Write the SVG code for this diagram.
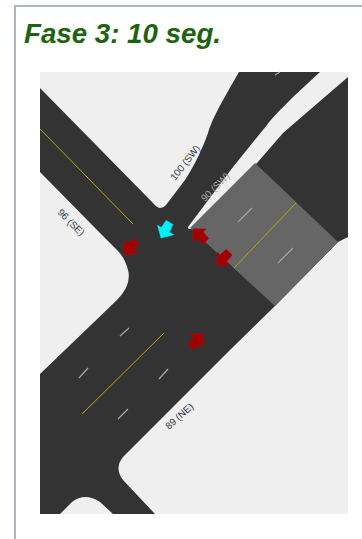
<svg xmlns="http://www.w3.org/2000/svg" width="362" height="539" viewBox="0 0 362 539">
<style>
.lbl{font-family:"Liberation Sans",Arial,sans-serif;font-size:9.8px;fill:#30384a}
.ye{stroke:#b8aa00;stroke-width:1;fill:none}
.da{stroke:#a8a8a8;stroke-width:1.2;fill:none}
.ar{fill:#a00000;stroke:#b80000;stroke-width:.8;stroke-linejoin:miter}
</style>
<defs><polygon id="arrow" points="0,0 0,13 -3,10 -9.5,15.5 -15,10 -9.5,3.5 -13,0"/></defs>
<rect width="362" height="539" fill="#fff"/>
<path d="M15,539V6H362" fill="none" stroke="#a9b8bf" stroke-width="2"/>
<text x="24" y="42.5" font-family="'Liberation Sans',Arial,sans-serif" font-size="27.7" font-weight="bold" font-style="italic" fill="#1c6412">Fase 3: 10 seg.</text>
<g id="map">
<rect x="40" y="72" width="308" height="442" fill="#efefef"/>
<path d="M40,88L153,203Q160,212 166,205L185,180C195,165 203,147 208,133C212,120 218,108 239,72L320,72L293,97C280,110 272,118 267,125L233,167L188,227Q187,229 191,229L257,163Q270,148 283,133L348,77L348,237L338,242L275,306L230,350L123,457Q114,468 123,480L155,514L113,514L100,502Q85,492 72,502L60,514L40,514L40,374L117,300Q132,285 128,270Q125,258 117,250L100,233L40,172Z" fill="#333"/>
<polygon points="190,228 255,163 338,242 275,306" fill="#666"/>
</g>
<g id="connectors">
<path class="ye" d="M40,129L133,224"/>
<path class="ye" d="M82,414L164,333"/>
<path class="ye" d="M234,268L296,203"/>
<path class="da" d="M275,75L280,72M238,222L252,208M278,263L293,248M120,336L129,328M79,378L88,368M159,379L168,369M118,419L128,409"/>
</g>
<g id="arrow-ne"><use href="#arrow" class="ar" transform="translate(203,334)"/></g>
<g id="arrow-se"><use href="#arrow" class="ar" transform="translate(124,254) rotate(180)"/></g>
<g id="arrow-nw"><use href="#arrow" class="ar" transform="translate(193,229) rotate(-90)"/></g>
<g id="arrow-sw"><use href="#arrow" class="ar" transform="translate(217,265) rotate(180)"/></g>
<g id="arrow-cyan"><use href="#arrow" fill="#00f0f8" stroke="#00f0f8" stroke-width=".6" transform="translate(161,238) rotate(165)"/></g>
<g id="labels">
<text class="lbl" transform="translate(175,181) rotate(-52)">100 (SW)</text>
<text class="lbl" transform="translate(205,202) rotate(-45)" style="fill:#a8a8a8">90 (SW)</text>
<text class="lbl" transform="translate(57,213) rotate(45)">96 (SE)</text>
<text class="lbl" transform="translate(169,430) rotate(-42)">89 (NE)</text>
</g>
</svg>
